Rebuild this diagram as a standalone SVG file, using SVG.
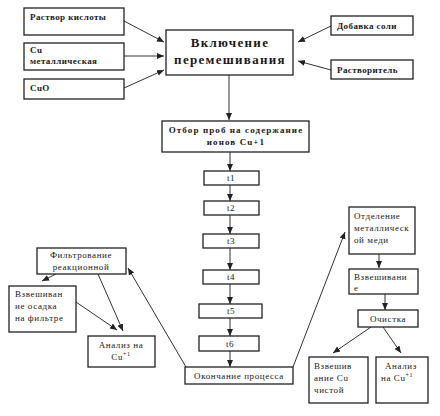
<svg xmlns="http://www.w3.org/2000/svg" width="440" height="416" viewBox="0 0 440 416" font-family="'Liberation Serif', 'DejaVu Serif', serif">
<defs>
<marker id="ah" markerWidth="8" markerHeight="8" refX="7" refY="4" orient="auto" markerUnits="userSpaceOnUse">
<path d="M0,1 L7,4 L0,7 Z" fill="#222"/>
</marker>
<style>
rect{fill:#fff;stroke:#222;stroke-width:1.3}
text{font-family:'Liberation Serif','DejaVu Serif',serif;fill:#1a1a1a}
.b{font-weight:bold;font-size:9px;letter-spacing:0.4px}
.w{letter-spacing:1.1px}
.t{font-weight:bold;font-size:13px;letter-spacing:1.3px}
.n{font-size:9px;letter-spacing:0.6px}
.m{text-anchor:middle}
#conn line{stroke:#333;stroke-width:1;marker-end:url(#ah)}
</style>
</defs>
<rect x="0" y="0" width="440" height="416" style="fill:#fff;stroke:none"/>
<g id="conn">
<line x1="124" y1="21" x2="164" y2="42"/>
<line x1="124" y1="56" x2="164" y2="56"/>
<line x1="124" y1="88" x2="164" y2="70"/>
<line x1="331" y1="26" x2="298" y2="42"/>
<line x1="331" y1="70" x2="298" y2="61"/>
<line x1="229" y1="75" x2="229" y2="120"/>
<line x1="230" y1="152" x2="230" y2="171"/>
<line x1="230" y1="185" x2="230" y2="201"/>
<line x1="230" y1="215" x2="230" y2="234"/>
<line x1="230" y1="248" x2="230" y2="270"/>
<line x1="230" y1="284" x2="230" y2="304"/>
<line x1="230" y1="318" x2="230" y2="336"/>
<line x1="230" y1="351" x2="230" y2="367"/>
<line x1="186" y1="367" x2="128" y2="268"/>
<line x1="293" y1="367" x2="345" y2="232"/>
<line x1="56" y1="274" x2="42" y2="281"/>
<line x1="98" y1="274" x2="123" y2="331"/>
<line x1="76" y1="302" x2="117" y2="330"/>
<line x1="379" y1="254" x2="379" y2="268"/>
<line x1="385" y1="294" x2="385" y2="310"/>
<line x1="371" y1="327" x2="333" y2="353"/>
<line x1="383" y1="327" x2="401" y2="353"/>
</g>
<g id="n1"><rect x="24" y="8" width="100" height="27"/><text class="b" x="30" y="20">Раствор кислоты</text></g>
<g id="n2"><rect x="24" y="43" width="100" height="27"/><text class="b" x="30" y="53">Cu</text><text class="b" x="30" y="64">металлическая</text></g>
<g id="n3"><rect x="24" y="79" width="100" height="20"/><text class="b" x="30" y="91">CuO</text></g>
<g id="main"><rect x="166" y="30" width="127" height="45"/><text class="t m" x="230" y="47">Включение</text><text class="t m" x="230" y="64">перемешивания</text></g>
<g id="n4"><rect x="331" y="16" width="82" height="19"/><text class="b" x="337" y="29">Добавка соли</text></g>
<g id="n5"><rect x="331" y="60" width="82" height="19"/><text class="b" x="337" y="73">Растворитель</text></g>
<g id="n6"><rect x="162" y="121" width="147" height="31"/><text class="b w m" x="236" y="133">Отбор проб на содержание</text><text class="b w m" x="236" y="145">ионов Cu+1</text></g>
<g id="t1"><rect x="204" y="171" width="55" height="14"/><text class="n m" x="231" y="181">t1</text></g>
<g id="t2"><rect x="204" y="201" width="55" height="14"/><text class="n m" x="231" y="211">t2</text></g>
<g id="t3"><rect x="203" y="234" width="56" height="14"/><text class="n m" x="231" y="244">t3</text></g>
<g id="t4"><rect x="203" y="270" width="56" height="14"/><text class="n m" x="231" y="280">t4</text></g>
<g id="t5"><rect x="199" y="304" width="63" height="14"/><text class="n m" x="231" y="314">t5</text></g>
<g id="t6"><rect x="199" y="336" width="60" height="15"/><text class="n m" x="230" y="347">t6</text></g>
<g id="end"><rect x="185" y="367" width="108" height="17"/><text class="n m" x="239" y="379">Окончание процесса</text></g>
<g id="f1"><rect x="37" y="248" width="89" height="26"/><text class="n m" x="81" y="258">Фильтрование</text><text class="n m" x="81" y="270">реакционной</text></g>
<g id="f2"><rect x="9" y="286" width="67" height="46"/><text class="n" x="15" y="297">Взвешиван</text><text class="n" x="15" y="309">ие осадка</text><text class="n" x="15" y="321">на фильтре</text></g>
<g id="f3"><rect x="88" y="336" width="67" height="31"/><text class="n m" x="121" y="348">Анализ на</text><text class="n m" x="121" y="360">Cu<tspan font-size="6" dy="-4">+1</tspan></text></g>
<g id="r1"><rect x="349" y="207" width="66" height="47"/><text class="n" x="354" y="219">Отделение</text><text class="n" x="354" y="231">металлическ</text><text class="n" x="354" y="243">ой меди</text></g>
<g id="r2"><rect x="349" y="269" width="69" height="25"/><text class="n" x="354" y="280">Взвешивани</text><text class="n" x="354" y="291">е</text></g>
<g id="r3"><rect x="358" y="310" width="60" height="17"/><text class="n m" x="388" y="322">Очистка</text></g>
<g id="r4"><rect x="309" y="357" width="59" height="46"/><text class="n" x="314" y="369">Взвешив</text><text class="n" x="314" y="381">ание Cu</text><text class="n" x="314" y="393">чистой</text></g>
<g id="r5"><rect x="376" y="357" width="52" height="46"/><text class="n" x="385" y="369">Анализ</text><text class="n" x="381" y="381">на Cu<tspan font-size="6" dy="-4">+1</tspan></text></g>
</svg>
